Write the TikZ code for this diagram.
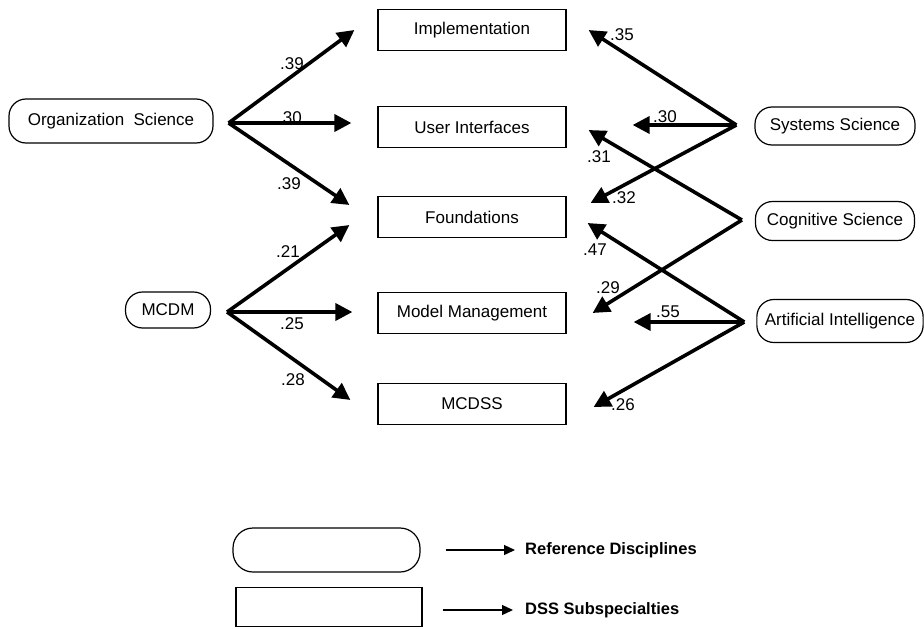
\documentclass[tikz,border=0pt]{standalone}
\usepackage{fontspec}
\setmainfont{Liberation Sans}
\usepackage{tikz}
\usetikzlibrary{arrows.meta}

\tikzset{
  disc/.style={draw, line width=1.2pt, rounded corners=17pt, minimum height=40pt, inner xsep=8pt},
  spec/.style={draw, line width=1.2pt, minimum width=188pt, minimum height=41pt},
  load/.style={line width=3.6pt, -{Triangle[length=17pt,width=17pt]}},
  keyarrow/.style={line width=1.3pt, -{Triangle[length=11pt,width=10pt]}},
  wt/.style={inner sep=0pt},
}

\begin{document}
\begin{tikzpicture}[x=1pt, y=-1pt, font=\fontsize{17}{20}\selectfont]
  \useasboundingbox (0,0) rectangle (924,629);

  % reference disciplines
  \node[disc, minimum width=204pt, minimum height=44pt] (orgsci) at (111,121) {Organization\ \ Science};
  \node[disc, minimum width=85pt, minimum height=36pt] (mcdm) at (168,310) {MCDM};
  \node[disc, minimum width=160pt, minimum height=38pt] (syssci) at (835,126) {Systems Science};
  \node[disc, minimum width=159pt, minimum height=39pt] (cogsci) at (835,221) {Cognitive Science};
  \node[disc, minimum width=165pt, minimum height=43pt] (ai) at (840,321) {Artificial Intelligence};

  % subspecialties
  \node[spec] (impl) at (472,30) {Implementation};
  \node[spec] (ui) at (472,127) {User Interfaces};
  \node[spec] (found) at (472,217) {Foundations};
  \node[spec] (mm) at (472,313) {Model Management};
  \node[spec] (mcdss) at (472,404) {MCDSS};

  % fan points
  \coordinate (os) at ([xshift=15pt,yshift=-2pt]orgsci.east);
  \coordinate (md) at ([xshift=16pt,yshift=-2pt]mcdm.east);
  \coordinate (ss) at ([xshift=-18pt,yshift=1pt]syssci.west);
  \coordinate (cs) at ([xshift=-13pt,yshift=1pt]cogsci.west);
  \coordinate (ar) at ([xshift=-12pt,yshift=-1pt]ai.west);

  % left side
  \draw[load] (os) -- ([xshift=-23pt]impl.west);
  \draw[load] (os) -- ([xshift=-26pt,yshift=4pt]ui.west);
  \draw[load] (os) -- ([xshift=-28pt,yshift=12pt]found.west);
  \draw[load] (md) -- ([xshift=-28pt,yshift=-8pt]found.west);
  \draw[load] (md) -- ([xshift=-25pt,yshift=1pt]mm.west);
  \draw[load] (md) -- ([xshift=-27pt,yshift=4pt]mcdss.west);

  % right side
  \draw[load] (ss) -- ([xshift=22pt]impl.east);
  \draw[load] (ss) -- ([xshift=66pt,yshift=2pt]ui.east);
  \draw[load] (ss) -- ([xshift=24pt,yshift=14pt]found.east);
  \draw[load] (cs) -- ([xshift=22pt,yshift=-3pt]ui.east);
  \draw[load] (cs) -- ([xshift=26pt]mm.east);
  \draw[load] (ar) -- ([xshift=21pt,yshift=-6pt]found.east);
  \draw[load] (ar) -- ([xshift=67pt,yshift=-9pt]mm.east);
  \draw[load] (ar) -- ([xshift=27pt,yshift=-3pt]mcdss.east);

  % weights
  \node[wt] (w1) at (292,64) {.39};
  \node[wt] (w2) at (290,118) {.30};
  \node[wt] (w3) at (289,184) {.39};
  \node[wt] (w4) at (288,252) {.21};
  \node[wt] (w5) at (292,324) {.25};
  \node[wt] (w6) at (293,380) {.28};
  \node[wt] (w7) at (622,35) {.35};
  \node[wt] (w8) at (665,117) {.30};
  \node[wt] (w9) at (599,157) {.31};
  \node[wt] (w10) at (624,198) {.32};
  \node[wt] (w11) at (595,250) {.47};
  \node[wt] (w12) at (608,288) {.29};
  \node[wt] (w13) at (668,312) {.55};
  \node[wt] (w14) at (623,405) {.26};

  % legend
  \node[disc, minimum width=187pt, minimum height=44pt, rounded corners=20pt] (legdisc) at (326.5,550) {};
  \node[spec, minimum width=186pt, minimum height=39pt] (legspec) at (329,607) {};
  \node[wt, anchor=west, font=\fontsize{16.5}{19}\selectfont\bfseries] (legdisctxt) at (525,550) {Reference Disciplines};
  \node[wt, anchor=west, font=\fontsize{16.5}{19}\selectfont\bfseries] (legspectxt) at (525,610) {DSS Subspecialties};
  \coordinate (ka) at ([xshift=25pt]legdisc.east);
  \coordinate (kb) at ([xshift=20pt,yshift=-3pt]legspec.east);
  \draw[keyarrow, shorten >=10pt] (ka) -- (legdisctxt.west);
  \draw[keyarrow, shorten >=12pt] (kb) -- (legspectxt.west);
\end{tikzpicture}
\end{document}
